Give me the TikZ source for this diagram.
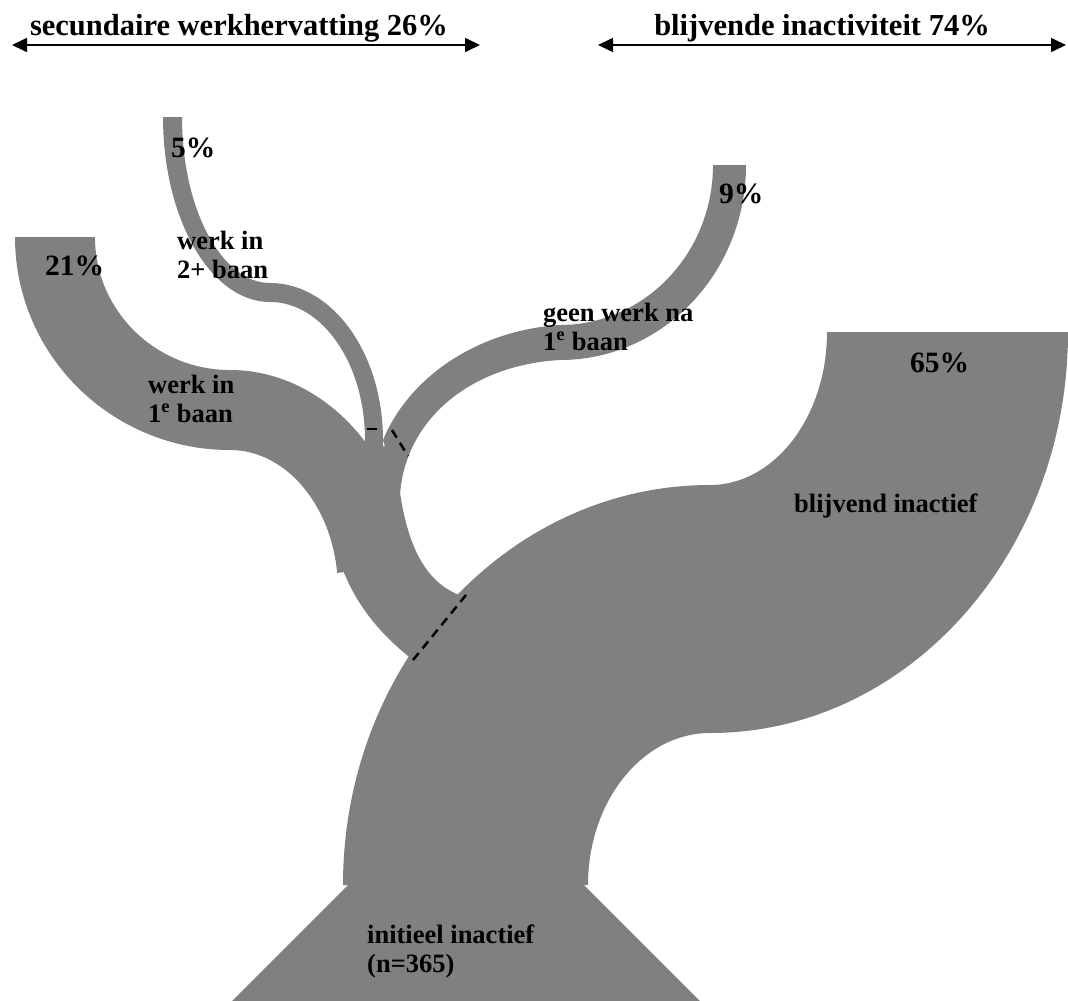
\documentclass[tikz,border=0pt]{standalone}
\usepackage{fontspec}
\setmainfont{Liberation Serif}
\usetikzlibrary{arrows.meta}
\definecolor{flowgray}{RGB}{128,128,128}
\tikzstyle{band} = [fill=flowgray]
\tikzstyle{cutline} = [line width=2.5pt, dash pattern=on 9pt off 6pt]
\tikzstyle{spanarrow} = [line width=1.6pt, {Triangle[length=15pt,width=14pt]}-{Triangle[length=15pt,width=14pt]}]
\tikzstyle{ttl} = [font=\fontsize{30.5}{34}\selectfont\bfseries, inner sep=0pt]
\tikzstyle{pct} = [font=\fontsize{29.5}{32}\selectfont\bfseries, inner sep=0pt, anchor=base west]
\tikzstyle{lbl} = [font=\fontsize{26.5}{29}\selectfont\bfseries, inner sep=0pt, anchor=base west, align=left]

\begin{document}
\begin{tikzpicture}[x=1pt, y=1pt, yscale=-1]
\useasboundingbox (0,0) rectangle (1068,1001);
% big flow: blijvend inactief
\fill [band] (343,885) arc[start angle=180, end angle=270, x radius=367, y radius=400]
  arc[start angle=90, end angle=0, x radius=117, y radius=153] -- (1068,332)
  arc[start angle=0, end angle=90, x radius=358, y radius=401]
  arc[start angle=270, end angle=180, x radius=122, y radius=152] -- cycle;
\fill [band] (348,885) -- (584,885) -- (700,1001) -- (232,1001) -- cycle;
% secundaire werkhervatting
\fill [band] (413,660) .. controls (375,630) and (340,590) .. (330,520) -- (360,450) -- (392,445)
  -- (400,493) .. controls (408,545) and (425,585) .. (465,597) -- cycle;
\fill [band] (15,237) arc[start angle=180, end angle=90, x radius=215, y radius=213]
  arc[start angle=-90, end angle=-7, x radius=108, y radius=140] -- (411.6,563.2)
  arc[start angle=-7, end angle=-90, x radius=183, y radius=220]
  arc[start angle=90, end angle=180, x radius=135, y radius=133] -- cycle;
\fill [band] (163,117) arc[start angle=180, end angle=90, x radius=107, y radius=185]
  arc[start angle=-90, end angle=0, x radius=95, y radius=138] -- (365,470) -- (383,470) -- (383,440)
  arc[start angle=0, end angle=-90, x radius=113, y radius=157]
  arc[start angle=90, end angle=180, x radius=88, y radius=166] -- cycle;
% geen werk na 1e baan
\fill [band] (383,440) .. controls (410,375) and (480,330) .. (560,325)
  arc[start angle=90, end angle=0, x radius=153, y radius=160] -- (746,165)
  arc[start angle=0, end angle=90, x radius=186, y radius=195]
  .. controls (470,365) and (405,420) .. (400,495) -- cycle;
% splits
\coordinate (s1a) at (413,660);
\coordinate (s1b) at (466,595);
\coordinate (s2a) at (392,430);
\coordinate (s2b) at (408,456);
\coordinate (s3a) at (367,429);
\coordinate (s3b) at (377,429);
\draw [cutline] (s1a) -- (s1b);
\draw [cutline] (s2a) -- (s2b);
\draw [line width=2.5pt] (s3a) -- (s3b);
% headings
\coordinate (la) at (12,45);
\coordinate (lb) at (480,45);
\coordinate (ra) at (598,45);
\coordinate (rb) at (1066,45);
\draw [spanarrow] (la) -- (lb);
\draw [spanarrow] (ra) -- (rb);
\node (secw) [ttl, anchor=base] at (239,35) {secundaire werkhervatting 26\%};
\node (blij) [ttl, anchor=base] at (822,35) {blijvende inactiviteit 74\%};
% labels
\node (p5) [pct] at (171,157) {5\%};
\node (p21) [pct] at (45,275) {21\%};
\node (p9) [pct] at (719,203) {9\%};
\node (p65) [pct] at (910,372) {65\%};
\node (w2) [lbl] at (177,278) {werk in\\2+ baan};
\node (w1) [lbl] at (148,422) {werk in\\1\textsuperscript{e} baan};
\node (gw) [lbl] at (543,350) {geen werk na\\1\textsuperscript{e} baan};
\node (bi) [lbl] at (794,512) {blijvend inactief};
\node (ii) [lbl] at (367,972) {initieel inactief\\(n=365)};
\end{tikzpicture}
\end{document}
